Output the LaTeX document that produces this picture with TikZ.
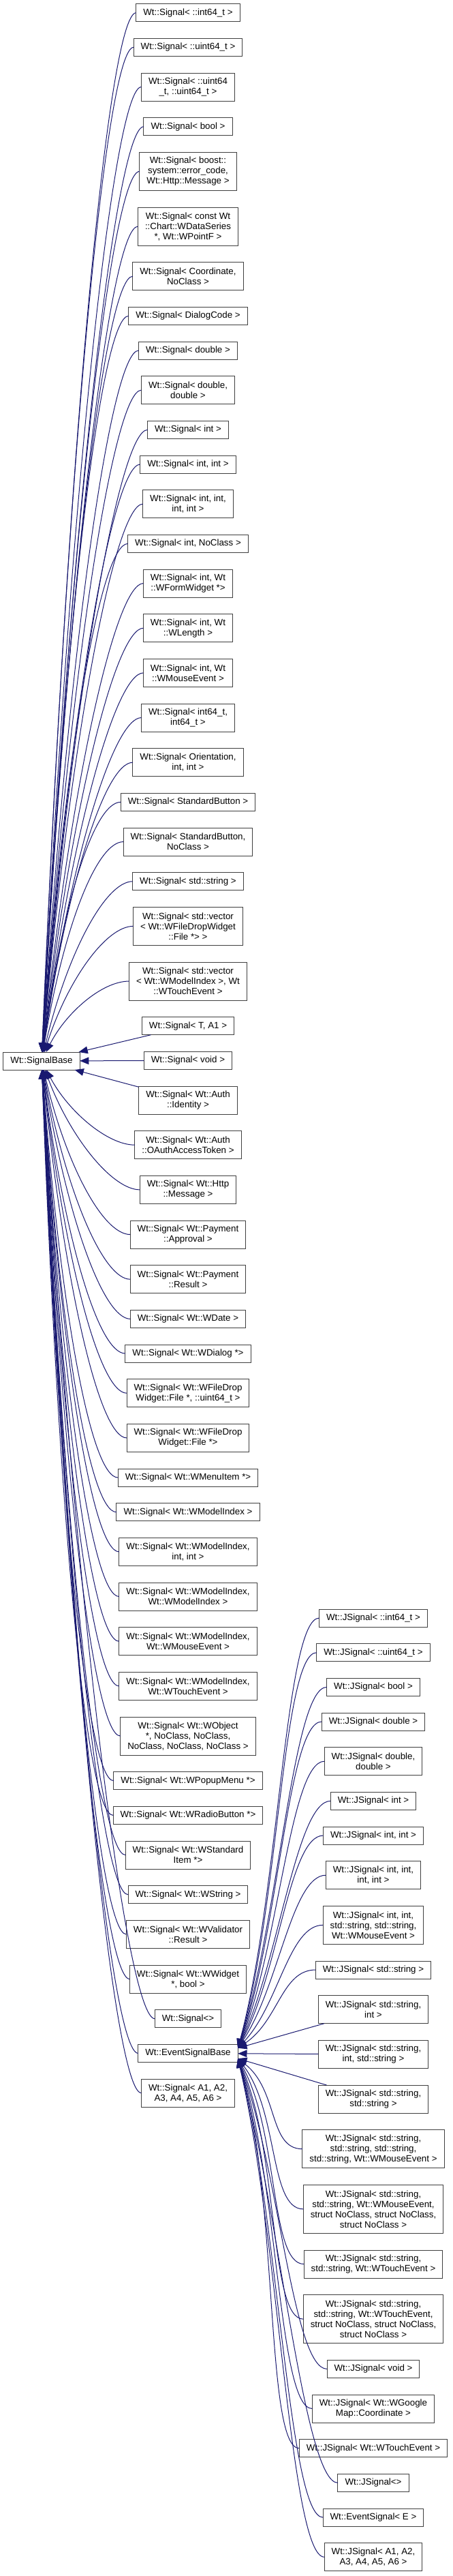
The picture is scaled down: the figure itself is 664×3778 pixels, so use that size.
\documentclass[tikz,border=0pt]{standalone}
\usepackage{fontspec}
\setmainfont{Liberation Sans}
\usetikzlibrary{positioning,calc,arrows.meta}
\definecolor{edgeblue}{RGB}{25,25,112}

\begin{document}
\begin{tikzpicture}
  	[x=0.75pt, y=0.75pt, node distance=18.5pt,
   	every node/.style={draw=black!75, fill=white, line width=0.75pt, align=center,
   		inner xsep=7.9pt, inner ysep=1pt, outer sep=0pt, minimum height=19.5pt,
   		font=\fontsize{10}{11.25}\selectfont},
   	two/.style={minimum height=30.75pt},
   	three/.style={minimum height=42pt},
   	four/.style={minimum height=53.25pt},
   	inherit/.style={draw=edgeblue, line width=0.75pt, -{Triangle[length=10pt,width=8pt]}},
   	to base/.style={to path={let \p1=(\tikztostart), \p2=(\tikztotarget),
   		\n1={0.6*(\y1-\y2)}, \n2={0.45*(\x1-37.5pt-\x2)} in
   		.. controls +(-30pt,0) and (\x2+\n2,\y2+\n1) .. (\tikztotarget)}},
   	to event/.style={to path={let \p1=(\tikztostart), \p2=(\tikztotarget),
   		\n1={0.35*(\y1-\y2)} in
   		.. controls +(-37.5pt,0) and (\x2+45pt,\y2+\n1) .. (\tikztotarget)}}]
  	\useasboundingbox (0,0) rectangle (664,-3778);
  	\fill[white] (0,0) rectangle (664,-3778);

  	% children of Wt::SignalBase
  	\node (s1) at (276,-18.7) {Wt::Signal< ::int64\_t >};
  	\node (s2) [below=of s1] {Wt::Signal< ::uint64\_t >};
  	\node (s3) [two, below=of s2] {Wt::Signal< ::uint64\\\_t, ::uint64\_t >};
  	\node (s4) [below=of s3] {Wt::Signal< bool >};
  	\node (s5) [three, below=of s4] {Wt::Signal< boost::\\system::error\_code,\\Wt::Http::Message >};
  	\node (s6) [three, below=of s5] {Wt::Signal< const Wt\\::Chart::WDataSeries\\*, Wt::WPointF >};
  	\node (s7) [two, below=of s6] {Wt::Signal< Coordinate,\\NoClass >};
  	\node (s8) [below=of s7] {Wt::Signal< DialogCode >};
  	\node (s9) [below=of s8] {Wt::Signal< double >};
  	\node (s10) [two, below=of s9] {Wt::Signal< double,\\double >};
  	\node (s11) [below=of s10] {Wt::Signal< int >};
  	\node (s12) [below=of s11] {Wt::Signal< int, int >};
  	\node (s13) [two, below=of s12] {Wt::Signal< int, int,\\int, int >};
  	\node (s14) [below=of s13] {Wt::Signal< int, NoClass >};
  	\node (s15) [two, below=of s14] {Wt::Signal< int, Wt\\::WFormWidget *>};
  	\node (s16) [two, below=of s15] {Wt::Signal< int, Wt\\::WLength >};
  	\node (s17) [two, below=of s16] {Wt::Signal< int, Wt\\::WMouseEvent >};
  	\node (s18) [two, below=of s17] {Wt::Signal< int64\_t,\\int64\_t >};
  	\node (s19) [two, below=of s18] {Wt::Signal< Orientation,\\int, int >};
  	\node (s20) [below=of s19] {Wt::Signal< StandardButton >};
  	\node (s21) [two, below=of s20] {Wt::Signal< StandardButton,\\NoClass >};
  	\node (s22) [below=of s21] {Wt::Signal< std::string >};
  	\node (s23) [three, below=of s22] {Wt::Signal< std::vector\\< Wt::WFileDropWidget\\::File *> >};
  	\node (s24) [three, below=of s23] {Wt::Signal< std::vector\\< Wt::WModelIndex >, Wt\\::WTouchEvent >};
  	\node (s25) [below=of s24] {Wt::Signal< T, A1 >};
  	\node (s26) [below=of s25] {Wt::Signal< void >};
  	\node (s27) [two, below=of s26] {Wt::Signal< Wt::Auth\\::Identity >};
  	\node (s28) [two, below=of s27] {Wt::Signal< Wt::Auth\\::OAuthAccessToken >};
  	\node (s29) [two, below=of s28] {Wt::Signal< Wt::Http\\::Message >};
  	\node (s30) [two, below=of s29] {Wt::Signal< Wt::Payment\\::Approval >};
  	\node (s31) [two, below=of s30] {Wt::Signal< Wt::Payment\\::Result >};
  	\node (s32) [below=of s31] {Wt::Signal< Wt::WDate >};
  	\node (s33) [below=of s32] {Wt::Signal< Wt::WDialog *>};
  	\node (s34) [two, below=of s33] {Wt::Signal< Wt::WFileDrop\\Widget::File *, ::uint64\_t >};
  	\node (s35) [two, below=of s34] {Wt::Signal< Wt::WFileDrop\\Widget::File *>};
  	\node (s36) [below=of s35] {Wt::Signal< Wt::WMenuItem *>};
  	\node (s37) [below=of s36] {Wt::Signal< Wt::WModelIndex >};
  	\node (s38) [two, below=of s37] {Wt::Signal< Wt::WModelIndex,\\int, int >};
  	\node (s39) [two, below=of s38] {Wt::Signal< Wt::WModelIndex,\\Wt::WModelIndex >};
  	\node (s40) [two, below=of s39] {Wt::Signal< Wt::WModelIndex,\\Wt::WMouseEvent >};
  	\node (s41) [two, below=of s40] {Wt::Signal< Wt::WModelIndex,\\Wt::WTouchEvent >};
  	\node (s42) [three, below=of s41] {Wt::Signal< Wt::WObject\\*, NoClass, NoClass,\\NoClass, NoClass, NoClass >};
  	\node (s43) [below=of s42] {Wt::Signal< Wt::WPopupMenu *>};
  	\node (s44) [below=of s43] {Wt::Signal< Wt::WRadioButton *>};
  	\node (s45) [two, below=of s44] {Wt::Signal< Wt::WStandard\\Item *>};
  	\node (s46) [below=of s45] {Wt::Signal< Wt::WString >};
  	\node (s47) [two, below=of s46] {Wt::Signal< Wt::WValidator\\::Result >};
  	\node (s48) [two, below=of s47] {Wt::Signal< Wt::WWidget\\*, bool >};
  	\node (s49) [below=of s48] {Wt::Signal<>};
  	\node (esb) [below=of s49] {Wt::EventSignalBase};
  	\node (s51) [two, below=of esb] {Wt::Signal< A1, A2,\\A3, A4, A5, A6 >};

  	\node (sb) at (61,-1556) {Wt::SignalBase};

  	% children of Wt::EventSignalBase
  	\node (j1) at (548,-2373) {Wt::JSignal< ::int64\_t >};
  	\node (j2) [below=of j1] {Wt::JSignal< ::uint64\_t >};
  	\node (j3) [below=of j2] {Wt::JSignal< bool >};
  	\node (j4) [below=of j3] {Wt::JSignal< double >};
  	\node (j5) [two, below=of j4] {Wt::JSignal< double,\\double >};
  	\node (j6) [below=of j5] {Wt::JSignal< int >};
  	\node (j7) [below=of j6] {Wt::JSignal< int, int >};
  	\node (j8) [two, below=of j7] {Wt::JSignal< int, int,\\int, int >};
  	\node (j9) [three, below=of j8] {Wt::JSignal< int, int,\\std::string, std::string,\\Wt::WMouseEvent >};
  	\node (j10) [below=of j9] {Wt::JSignal< std::string >};
  	\node (j11) [two, below=of j10] {Wt::JSignal< std::string,\\int >};
  	\node (j12) [two, below=of j11] {Wt::JSignal< std::string,\\int, std::string >};
  	\node (j13) [two, below=of j12] {Wt::JSignal< std::string,\\std::string >};
  	\node (j14) [three, below=of j13] {Wt::JSignal< std::string,\\std::string, std::string,\\std::string, Wt::WMouseEvent >};
  	\node (j15) [four, below=of j14] {Wt::JSignal< std::string,\\std::string, Wt::WMouseEvent,\\struct NoClass, struct NoClass,\\struct NoClass >};
  	\node (j16) [two, below=of j15] {Wt::JSignal< std::string,\\std::string, Wt::WTouchEvent >};
  	\node (j17) [four, below=of j16] {Wt::JSignal< std::string,\\std::string, Wt::WTouchEvent,\\struct NoClass, struct NoClass,\\struct NoClass >};
  	\node (j18) [below=of j17] {Wt::JSignal< void >};
  	\node (j19) [two, below=of j18] {Wt::JSignal< Wt::WGoogle\\Map::Coordinate >};
  	\node (j20) [below=of j19] {Wt::JSignal< Wt::WTouchEvent >};
  	\node (j21) [below=of j20] {Wt::JSignal<>};
  	\node (j22) [below=of j21] {Wt::EventSignal< E >};
  	\node (j23) [two, below=of j22] {Wt::JSignal< A1, A2,\\A3, A4, A5, A6 >};

  	\coordinate (etop) at ([yshift=-4pt]esb.north east);
  	\coordinate (ebot) at ([yshift=4pt]esb.south east);

  	% inheritance arrows to Wt::SignalBase
  	\draw[inherit] (s1.west) to[to base] (sb);
  	\draw[inherit] (s2.west) to[to base] (sb);
  	\draw[inherit] (s3.west) to[to base] (sb);
  	\draw[inherit] (s4.west) to[to base] (sb);
  	\draw[inherit] (s5.west) to[to base] (sb);
  	\draw[inherit] (s6.west) to[to base] (sb);
  	\draw[inherit] (s7.west) to[to base] (sb);
  	\draw[inherit] (s8.west) to[to base] (sb);
  	\draw[inherit] (s9.west) to[to base] (sb);
  	\draw[inherit] (s10.west) to[to base] (sb);
  	\draw[inherit] (s11.west) to[to base] (sb);
  	\draw[inherit] (s12.west) to[to base] (sb);
  	\draw[inherit] (s13.west) to[to base] (sb);
  	\draw[inherit] (s14.west) to[to base] (sb);
  	\draw[inherit] (s15.west) to[to base] (sb);
  	\draw[inherit] (s16.west) to[to base] (sb);
  	\draw[inherit] (s17.west) to[to base] (sb);
  	\draw[inherit] (s18.west) to[to base] (sb);
  	\draw[inherit] (s19.west) to[to base] (sb);
  	\draw[inherit] (s20.west) to[to base] (sb);
  	\draw[inherit] (s21.west) to[to base] (sb);
  	\draw[inherit] (s22.west) to[to base] (sb);
  	\draw[inherit] (s23.west) to[to base] (sb);
  	\draw[inherit] (s24.west) to[to base] (sb);
  	\draw[inherit] (s25) -- (sb);
  	\draw[inherit] (s26) -- (sb);
  	\draw[inherit] (s27) -- (sb);
  	\draw[inherit] (s28.west) to[to base] (sb);
  	\draw[inherit] (s29.west) to[to base] (sb);
  	\draw[inherit] (s30.west) to[to base] (sb);
  	\draw[inherit] (s31.west) to[to base] (sb);
  	\draw[inherit] (s32.west) to[to base] (sb);
  	\draw[inherit] (s33.west) to[to base] (sb);
  	\draw[inherit] (s34.west) to[to base] (sb);
  	\draw[inherit] (s35.west) to[to base] (sb);
  	\draw[inherit] (s36.west) to[to base] (sb);
  	\draw[inherit] (s37.west) to[to base] (sb);
  	\draw[inherit] (s38.west) to[to base] (sb);
  	\draw[inherit] (s39.west) to[to base] (sb);
  	\draw[inherit] (s40.west) to[to base] (sb);
  	\draw[inherit] (s41.west) to[to base] (sb);
  	\draw[inherit] (s42.west) to[to base] (sb);
  	\draw[inherit] (s43.west) to[to base] (sb);
  	\draw[inherit] (s44.west) to[to base] (sb);
  	\draw[inherit] (s45.west) to[to base] (sb);
  	\draw[inherit] (s46.west) to[to base] (sb);
  	\draw[inherit] (s47.west) to[to base] (sb);
  	\draw[inherit] (s48.west) to[to base] (sb);
  	\draw[inherit] (s49.west) to[to base] (sb);
  	\draw[inherit] (esb.west) to[to base] (sb);
  	\draw[inherit] (s51.west) to[to base] (sb);

  	% inheritance arrows to Wt::EventSignalBase
  	\draw[inherit] (j1.west) to[to event] (etop);
  	\draw[inherit] (j2.west) to[to event] (etop);
  	\draw[inherit] (j3.west) to[to event] (etop);
  	\draw[inherit] (j4.west) to[to event] (etop);
  	\draw[inherit] (j5.west) to[to event] (etop);
  	\draw[inherit] (j6.west) to[to event] (etop);
  	\draw[inherit] (j7.west) to[to event] (etop);
  	\draw[inherit] (j8.west) to[to event] (etop);
  	\draw[inherit] (j9.west) to[to event] (etop);
  	\draw[inherit] (j10.west) to[to event] (etop);
  	\draw[inherit] (j11) -- (etop);
  	\draw[inherit] (j12) -- (esb);
  	\draw[inherit] (j13) -- (ebot);
  	\draw[inherit] (j14.west) to[to event] (ebot);
  	\draw[inherit] (j15.west) to[to event] (ebot);
  	\draw[inherit] (j16.west) to[to event] (ebot);
  	\draw[inherit] (j17.west) to[to event] (ebot);
  	\draw[inherit] (j18.west) to[to event] (ebot);
  	\draw[inherit] (j19.west) to[to event] (ebot);
  	\draw[inherit] (j20.west) to[to event] (ebot);
  	\draw[inherit] (j21.west) to[to event] (ebot);
  	\draw[inherit] (j22.west) to[to event] (ebot);
  	\draw[inherit] (j23.west) to[to event] (ebot);
\end{tikzpicture}
\end{document}
